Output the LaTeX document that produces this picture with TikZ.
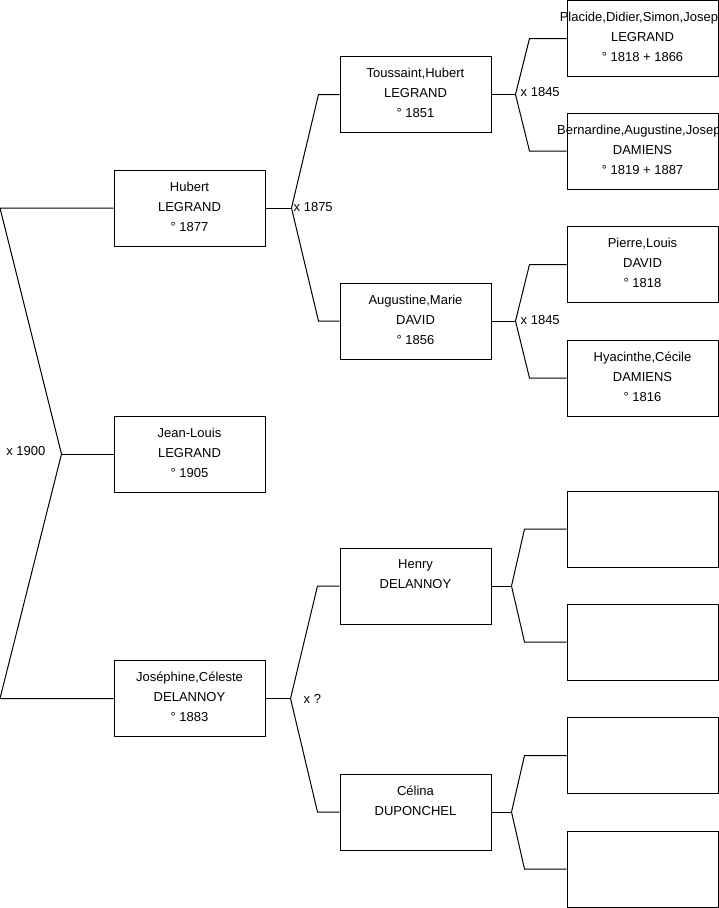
\documentclass[tikz,border=0pt]{standalone}
\usepackage{fontspec}
\setmainfont{Liberation Sans}
\usetikzlibrary{positioning}
\tikzstyle{person} = [rectangle, draw=black, line width=1pt, minimum width=151pt, minimum height=76pt, inner sep=0pt]
\tikzstyle{names} = [anchor=north, yshift=-12pt, align=center, inner sep=0pt, font=\fontsize{13}{20}\selectfont, execute at begin node={\rule{0pt}{12pt}}]
\tikzstyle{union} = [inner sep=0pt, font=\fontsize{13}{20}\selectfont]
\tikzstyle{link} = [line width=1pt, draw=black]

\begin{document}
\begin{tikzpicture}[x=1pt, y=-1pt]
    \useasboundingbox (0,0) rectangle (719,908);

    % Nodes
    \node (hubert) [person, label={[names]north:{Hubert\\LEGRAND\\° 1877}}] at (189.5,208) {};
    \node (jeanlouis) [person, label={[names]north:{Jean-Louis\\LEGRAND\\° 1905}}] at (189.5,454) {};
    \node (josephine) [person, label={[names]north:{Joséphine,Céleste\\DELANNOY\\° 1883}}] at (189.5,698.5) {};

    \node (toussaint) [person, label={[names]north:{Toussaint,Hubert\\LEGRAND\\° 1851}}] at (415.5,94.5) {};
    \node (augustine) [person, label={[names]north:{Augustine,Marie\\DAVID\\° 1856}}] at (415.5,321) {};
    \node (henry) [person, label={[names]north:{Henry\\DELANNOY}}] at (415.5,586) {};
    \node (celina) [person, label={[names]north:{Célina\\DUPONCHEL}}] at (415.5,812) {};

    \node (placide) [person, label={[names]north:{Placide,Didier,Simon,Joseph\\LEGRAND\\° 1818 + 1866}}] at (642.5,38.5) {};
    \node (bernardine) [person, label={[names]north:{Bernardine,Augustine,Joseph\\DAMIENS\\° 1819 + 1887}}] at (642.5,151) {};
    \node (pierre) [person, label={[names]north:{Pierre,Louis\\DAVID\\° 1818}}] at (642.5,264.5) {};
    \node (hyacinthe) [person, label={[names]north:{Hyacinthe,Cécile\\DAMIENS\\° 1816}}] at (642.5,378) {};
    \node (henryf) [person] at (642.5,529) {};
    \node (henrym) [person] at (642.5,642) {};
    \node (celinaf) [person] at (642.5,755.5) {};
    \node (celinam) [person] at (642.5,869) {};

    % Forks
    \coordinate (f0) at ([xshift=-52pt]jeanlouis.west);
    \coordinate (f1) at ([xshift=26pt]hubert.east);
    \coordinate (f2) at ([xshift=25pt]josephine.east);
    \coordinate (f3) at ([xshift=24pt]toussaint.east);
    \coordinate (f4) at ([xshift=24pt]augustine.east);
    \coordinate (f5) at ([xshift=20pt]henry.east);
    \coordinate (f6) at ([xshift=20pt]celina.east);

    \node (m1900) [union, left=16pt of f0, yshift=3pt] {x 1900};
    \node (m1875) [union, right=2pt of f1, yshift=1pt] {x 1875};
    \node (mfirst) [union, right=13pt of f2] {x ?};
    \node (m1845a) [union, right=5pt of f3, yshift=2pt] {x 1845};
    \node (m1845b) [union, right=5pt of f4, yshift=1pt] {x 1845};

    % Lines
    \draw [link] (jeanlouis.west) -- (f0);
    \draw [link] (f0) -- ([xshift=-113.5pt]hubert.west) -- (hubert.west);
    \draw [link] (f0) -- ([xshift=-113.5pt]josephine.west) -- (josephine.west);

    \draw [link] (hubert.east) -- (f1);
    \draw [link] (f1) -- ([xshift=-21pt]toussaint.west) -- (toussaint.west);
    \draw [link] (f1) -- ([xshift=-21pt]augustine.west) -- (augustine.west);

    \draw [link] (josephine.east) -- (f2);
    \draw [link] (f2) -- ([xshift=-22pt]henry.west) -- (henry.west);
    \draw [link] (f2) -- ([xshift=-22pt]celina.west) -- (celina.west);

    \draw [link] (toussaint.east) -- (f3);
    \draw [link] (f3) -- ([xshift=-37pt]placide.west) -- (placide.west);
    \draw [link] (f3) -- ([xshift=-37pt]bernardine.west) -- (bernardine.west);

    \draw [link] (augustine.east) -- (f4);
    \draw [link] (f4) -- ([xshift=-37pt]pierre.west) -- (pierre.west);
    \draw [link] (f4) -- ([xshift=-37pt]hyacinthe.west) -- (hyacinthe.west);

    \draw [link] (henry.east) -- (f5);
    \draw [link] (f5) -- ([xshift=-42pt]henryf.west) -- (henryf.west);
    \draw [link] (f5) -- ([xshift=-42pt]henrym.west) -- (henrym.west);

    \draw [link] (celina.east) -- (f6);
    \draw [link] (f6) -- ([xshift=-42pt]celinaf.west) -- (celinaf.west);
    \draw [link] (f6) -- ([xshift=-42pt]celinam.west) -- (celinam.west);

\end{tikzpicture}
\end{document}
